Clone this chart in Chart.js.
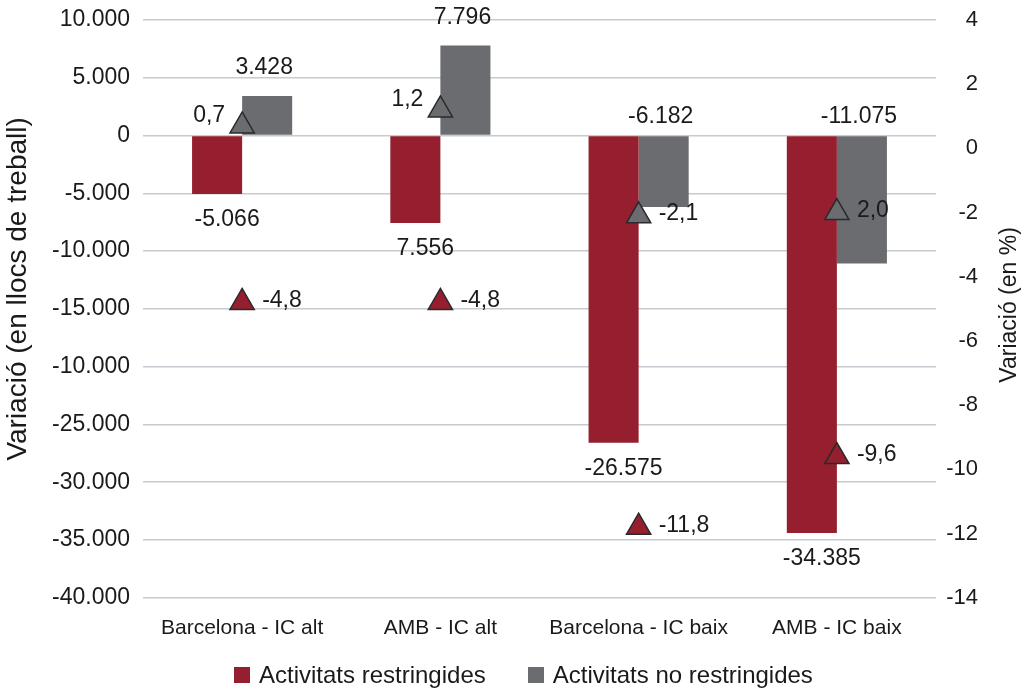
<!DOCTYPE html>
<html>
<head>
<meta charset="utf-8">
<script src="https://cdn.jsdelivr.net/npm/chart.js@4.4.1/dist/chart.umd.min.js"></script>
<style>
  body { margin: 0; background: #fff; }
  #wrap { position: relative; width: 1029px; height: 688px; }
  #legend { position: absolute; left: 234px; top: 661px; display: flex; align-items: center;
            font: 24px "Liberation Sans", Arial, sans-serif; color: #1a1a1a; }
  #legend .box { width: 16px; height: 16px; margin-right: 9px; }
  #legend .item { display: flex; align-items: center; }
  #legend .item + .item { margin-left: 42px; }
</style>
</head>
<body>
<div id="wrap">
  <canvas id="chart" width="1029" height="688"></canvas>
  <div id="legend">
    <div class="item"><span class="box" style="background:#951f2e"></span><span>Activitats restringides</span></div>
    <div class="item"><span class="box" style="background:#6b6c70"></span><span>Activitats no restringides</span></div>
  </div>
</div>
<script>
// Dades
const categories = ['Barcelona - IC alt', 'AMB - IC alt', 'Barcelona - IC baix', 'AMB - IC baix'];
const restringides = [-5066, -7556, -26575, -34385];       // llocs de treball
const noRestringides = [3428, 7796, -6182, -11075];
const restringidesPct = [-4.8, -4.8, -11.8, -9.6];          // %
const noRestringidesPct = [0.7, 1.2, -2.1, -2.0];

// Etiquetes tal com surten a la imatge
const restringidesLabels = ['-5.066', '7.556', '-26.575', '-34.385'];
const noRestringidesLabels = ['3.428', '7.796', '-6.182', '-11.075'];
const restringidesPctLabels = ['-4,8', '-4,8', '-11,8', '-9,6'];
const noRestringidesPctLabels = ['0,7', '1,2', '-2,1', '2,0'];

const leftTickValues = [10000, 5000, 0, -5000, -10000, -15000, -20000, -25000, -30000, -35000, -40000];
const leftTickLabels = ['10.000', '5.000', '0', '-5.000', '-10.000', '-15.000', '-10.000', '-25.000', '-30.000', '-35.000', '-40.000'];

const RED = '#951f2e';
const GREY = '#6b6c70';
const FONT = '"Liberation Sans", Arial, sans-serif';
const TEXT = '#1a1a1a';

// etiquetes de valor i títols dels eixos
const labelsPlugin = {
  id: 'labelsPlugin',
  afterDatasetsDraw(chart) {
    const ctx = chart.ctx;
    const zero = chart.scales.y.getPixelForValue(0);
    ctx.save();
    ctx.fillStyle = TEXT;
    ctx.font = '23px ' + FONT;
    ctx.textBaseline = 'middle';
    ctx.textAlign = 'center';

    chart.getDatasetMeta(0).data.forEach((bar, i) => {
      ctx.fillText(restringidesLabels[i], bar.x + 10, bar.y + 26);
    });
    chart.getDatasetMeta(1).data.forEach((bar, i) => {
      const y = noRestringides[i] >= 0 ? bar.y - 28 : zero - 19;
      ctx.fillText(noRestringidesLabels[i], bar.x - 3, y);
    });

    const pctLabel = (meta, values, texts) => {
      meta.data.forEach((pt, i) => {
        if (values[i] >= 0) {
          ctx.textAlign = 'right';
          ctx.fillText(texts[i], pt.x - 17, pt.y - 10);
        } else {
          ctx.textAlign = 'left';
          ctx.fillText(texts[i], pt.x + 20, pt.y - 2);
        }
      });
    };
    pctLabel(chart.getDatasetMeta(2), restringidesPct, restringidesPctLabels);
    pctLabel(chart.getDatasetMeta(3), noRestringidesPct, noRestringidesPctLabels);
    ctx.restore();
  },
  afterDraw(chart) {
    const ctx = chart.ctx;
    const area = chart.chartArea;
    const mid = (area.top + area.bottom) / 2;
    ctx.save();
    ctx.fillStyle = TEXT;
    ctx.textAlign = 'center';
    ctx.textBaseline = 'middle';

    ctx.font = '28px ' + FONT;
    ctx.translate(18, mid - 20);
    ctx.rotate(-Math.PI / 2);
    ctx.fillText('Variació (en llocs de treball)', 0, 0);
    ctx.restore();

    ctx.save();
    ctx.fillStyle = TEXT;
    ctx.textAlign = 'center';
    ctx.textBaseline = 'middle';
    ctx.font = '23px ' + FONT;
    ctx.translate(1010, mid - 4);
    ctx.rotate(-Math.PI / 2);
    ctx.fillText('Variació (en %)', 0, 0);
    ctx.restore();
  }
};

const ctx = document.getElementById('chart').getContext('2d');

const chart = new Chart(ctx, {
  type: 'bar',
  data: {
    labels: categories,
    datasets: [
      {
        label: 'Activitats restringides',
        data: restringides,
        backgroundColor: RED,
        yAxisID: 'y',
        order: 2
      },
      {
        label: 'Activitats no restringides',
        data: noRestringides,
        backgroundColor: GREY,
        yAxisID: 'y',
        order: 2
      },
      {
        type: 'line',
        label: 'Activitats restringides (%)',
        data: restringidesPct,
        yAxisID: 'y1',
        showLine: false,
        pointStyle: 'triangle',
        pointRadius: 14,
        pointHoverRadius: 14,
        pointBackgroundColor: RED,
        pointBorderColor: '#2a2a2a',
        pointBorderWidth: 1.5,
        order: 1
      },
      {
        type: 'line',
        label: 'Activitats no restringides (%)',
        data: noRestringidesPct,
        yAxisID: 'y1',
        showLine: false,
        pointStyle: 'triangle',
        pointRadius: 14,
        pointHoverRadius: 14,
        pointBackgroundColor: GREY,
        pointBorderColor: '#2a2a2a',
        pointBorderWidth: 1.5,
        order: 1
      }
    ]
  },
  options: {
    responsive: false,
    animation: false,
    categoryPercentage: 0.505,
    barPercentage: 1.0,
    layout: { padding: { top: 20, bottom: 37, left: 0, right: 51 } },
    plugins: {
      legend: { display: false },
      tooltip: { enabled: false }
    },
    scales: {
      x: {
        grid: { display: false },
        border: { display: false },
        ticks: { color: TEXT, font: { family: FONT, size: 21 }, padding: 10, maxRotation: 0 }
      },
      y: {
        position: 'left',
        min: -40000,
        max: 10000,
        afterFit(scale) { scale.width = 143; scale.paddingTop = 0; scale.paddingBottom = 0; },
        grid: { color: '#c6cbd1', lineWidth: 1.5, drawTicks: false },
        border: { display: false },
        ticks: {
          stepSize: 5000,
          padding: 13,
          color: TEXT,
          font: { family: FONT, size: 23 },
          callback: v => {
            const i = leftTickValues.indexOf(v);
            return i >= 0 ? leftTickLabels[i] : '';
          }
        }
      },
      y1: {
        position: 'right',
        min: -14,
        max: 4,
        afterFit(scale) { scale.width = 42; scale.paddingTop = 0; scale.paddingBottom = 0; },
        grid: { display: false, drawTicks: false },
        border: { display: false },
        ticks: {
          stepSize: 2,
          padding: 9,
          crossAlign: 'far',
          color: TEXT,
          font: { family: FONT, size: 22 },
          callback: v => String(v)
        }
      }
    }
  },
  plugins: [labelsPlugin]
});
</script>
</body>
</html>
